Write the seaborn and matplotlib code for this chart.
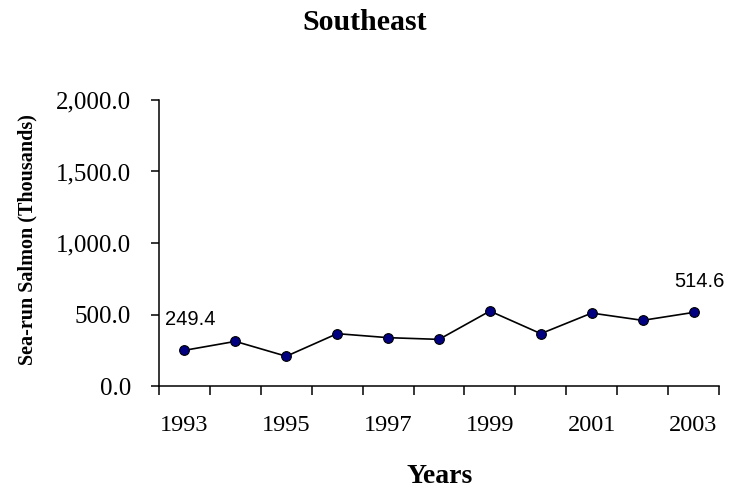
import matplotlib
matplotlib.use("Agg")
import matplotlib.pyplot as plt
import seaborn as sns
import pandas as pd
from matplotlib.ticker import FuncFormatter

# ---- data ----
years = [1993, 1994, 1995, 1996, 1997, 1998, 1999, 2000, 2001, 2002, 2003]
salmon = [249.4, 312, 208, 366, 338, 326, 524, 366, 510, 459, 514.6]
label_idx = [0, 10]
label_text = ["249.4", "514.6"]
y_ticks = [0, 500, 1000, 1500, 2000]

sns.set_theme(style="ticks")
plt.rcParams['font.family'] = ['Liberation Serif', 'DejaVu Serif']

W, H = 733, 490
fig = plt.figure(figsize=(W / 100, H / 100), dpi=100)
ax = fig.add_axes([159 / W, 1 - 386 / H, (719 - 159) / W, (386 - 100) / H])

df = pd.DataFrame({"pos": list(range(len(years))), "value": salmon})
sns.lineplot(data=df, x="pos", y="value", ax=ax, color="black", linewidth=1.2,
             marker="o", markersize=7, markerfacecolor="#000080",
             markeredgecolor="black", markeredgewidth=0.8)

ax.set_xlim(-0.5, len(years) - 0.5)
ax.set_ylim(0, 2000)
ax.set_yticks(y_ticks)
ax.yaxis.set_major_formatter(FuncFormatter(lambda v, p: f"{v:,.1f}"))

ax.set_xticks([i - 0.5 for i in range(len(years) + 1)])
ax.set_xticklabels([])
ax.set_xticks(list(range(0, len(years), 2)), minor=True)
ax.set_xticklabels([str(y) for y in years[::2]], minor=True)

ax.tick_params(axis='x', which='major', direction='out', length=6.5, width=1.1, color='black')
ax.tick_params(axis='x', which='minor', length=0, pad=21, labelsize=17.5, labelcolor='black')
ax.tick_params(axis='y', direction='out', length=6, width=1.1, pad=14, labelsize=18,
               color='black', labelcolor='black')

for s in ['top', 'right']:
    ax.spines[s].set_visible(False)
for s in ['left', 'bottom']:
    ax.spines[s].set_color('black')
    ax.spines[s].set_linewidth(1.1)

ax.set_xlabel("")
ax.set_ylabel("")

for i, t in zip(label_idx, label_text):
    ax.annotate(t, (i, salmon[i]), xytext=(4.5, 22), textcoords='offset points',
                ha='center', va='center', fontsize=14.5, family=['Liberation Sans'],
                color='black')

fig.text(365 / W, 1 - 30 / H, "Southeast", ha='center', va='baseline',
         fontsize=21.5, fontweight='bold', color='black')
fig.text(440 / W, 1 - 483 / H, "Years", ha='center', va='baseline',
         fontsize=20, fontweight='bold', color='black')
fig.text(27 / W, 1 - 240 / H, "Sea-run Salmon (Thousands)", ha='center', va='center',
         rotation=90, fontsize=14.5, fontweight='bold', color='black')

fig.savefig("out.png", dpi=100, facecolor='white')
